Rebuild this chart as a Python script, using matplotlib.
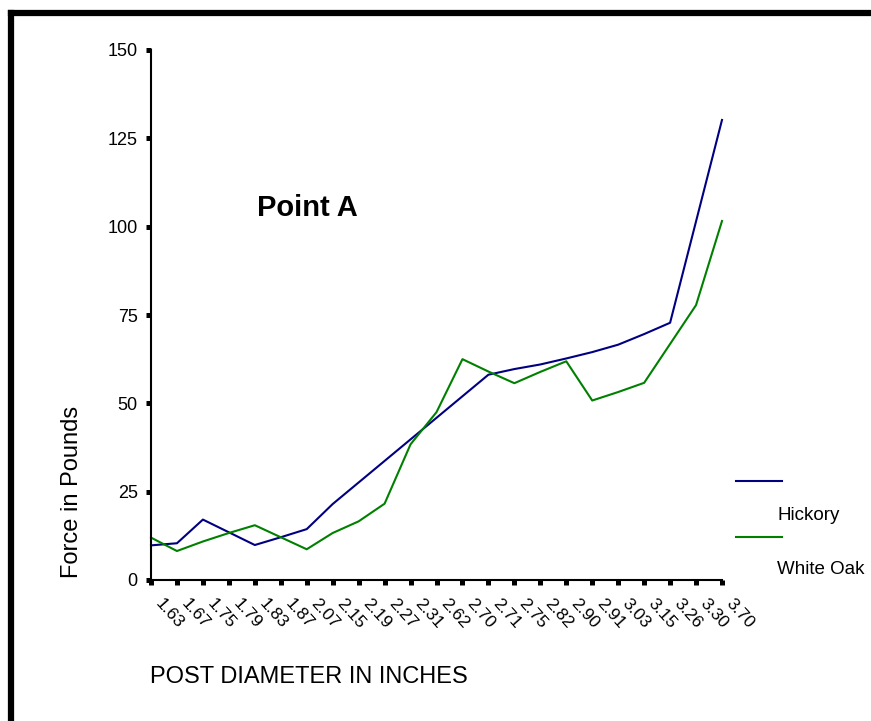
import matplotlib

matplotlib.use("Agg")
import matplotlib.pyplot as plt
import matplotlib.transforms as mtransforms
from matplotlib.lines import Line2D

plt.rcParams.update(
    {
        "font.family": ["Liberation Sans", "DejaVu Sans"],
        "axes.spines.top": False,
        "axes.spines.right": False,
    }
)

diameters = ["1.63", "1.67", "1.75", "1.79", "1.83", "1.87", "2.07", "2.15", "2.19",
             "2.27", "2.31", "2.62", "2.70", "2.71", "2.75", "2.82", "2.90", "2.91",
             "3.03", "3.15", "3.26", "3.30", "3.70"]
hickory = [9.8, 10.4, 17.1, 13.5, 9.9, 12.1, 14.4, 21.5, 27.6, 33.7, 39.8, 45.9,
           52.0, 58.1, 59.7, 61.0, 62.7, 64.5, 66.6, 69.6, 72.8, 101.5, 130.2]
white_oak = [12.0, 8.2, 10.9, 13.3, 15.5, 12.1, 8.7, 13.3, 16.6, 21.6, 38.4, 47.5,
             62.5, 59.0, 55.7, 58.9, 61.9, 50.8, 53.2, 55.8, 66.8, 77.8, 101.6]
y_ticks = [0, 25, 50, 75, 100, 125, 150]

W, H = 871, 721
fig = plt.figure(figsize=(W / 100, H / 100), dpi=100)
ax = fig.add_axes([151 / W, (H - 580) / H, (722 - 151) / W, (580 - 50) / H])

x = list(range(len(diameters)))
ax.plot(x, hickory, color="#000080", lw=1.5, clip_on=False)
ax.plot(x, white_oak, color="#008000", lw=1.5, clip_on=False)

ax.set_xlim(0, len(diameters) - 1)
ax.set_ylim(0, 150)
ax.set_yticks(y_ticks)
ax.set_yticklabels([str(v) for v in y_ticks], fontsize=13)
ax.set_xticks(x)
ax.set_xticklabels(diameters, fontsize=12.5, rotation=-48, rotation_mode="anchor",
                   ha="left", va="center")
ax.tick_params(axis="both", length=3.6, width=3.6, color="black", direction="out")
ax.tick_params(axis="y", pad=6)
ax.tick_params(axis="x", pad=10)
for s in ("left", "bottom"):
    ax.spines[s].set_linewidth(1.5)

# nudge the slanted x labels a little to the right, as in the original
shift = mtransforms.ScaledTranslation(7 / 100, -2 / 100, fig.dpi_scale_trans)
for lab in ax.get_xticklabels():
    lab.set_transform(lab.get_transform() + shift)

fig.text(307 / W, 1 - 208 / H, "Point A", fontsize=21, fontweight="bold",
         ha="center", va="center")
fig.text(72 / W, 1 - 492 / H, "Force in Pounds", fontsize=17, rotation=90,
         ha="center", va="center")
fig.text(150 / W, 1 - 677 / H, "POST DIAMETER IN INCHES", fontsize=17,
         ha="left", va="center")

# legend drawn by hand, like the original layout
fig.add_artist(Line2D([736 / W, 782 / W], [1 - 481 / H, 1 - 481 / H], color="#000080", lw=1.5))
fig.text(777 / W, 1 - 515 / H, "Hickory", fontsize=13.5, ha="left", va="center")
fig.add_artist(Line2D([736 / W, 782 / W], [1 - 537 / H, 1 - 537 / H], color="#008000", lw=1.5))
fig.text(777 / W, 1 - 569 / H, "White Oak", fontsize=13.5, ha="left", va="center")

# thick outer frame (left and top edges visible)
fig.add_artist(Line2D([11 / W, 11 / W], [0, 1 - 13 / H], color="black", lw=4.5,
                      solid_capstyle="projecting"))
fig.add_artist(Line2D([11 / W, 1.0], [1 - 13 / H, 1 - 13 / H], color="black", lw=4.5,
                      solid_capstyle="projecting"))

fig.savefig("out.png", dpi=100)
